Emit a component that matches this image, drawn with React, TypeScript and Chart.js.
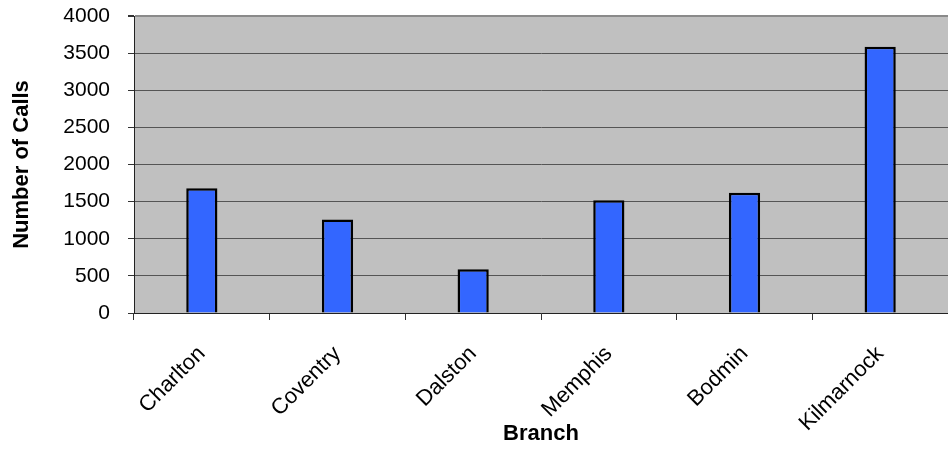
import React, { useEffect, useRef } from "react";
import { Chart, registerables } from "chart.js";

Chart.register(...registerables);

const categories = ["Charlton", "Coventry", "Dalston", "Memphis", "Bodmin", "Kilmarnock"];
const calls = [1680, 1260, 590, 1520, 1620, 3585];
const yTicks = [0, 500, 1000, 1500, 2000, 2500, 3000, 3500, 4000];

const FONT = "'Liberation Sans', Arial, sans-serif";

const plotBg = {
  id: "plotBg",
  beforeDraw(chart: any) {
    const { ctx, chartArea } = chart;
    ctx.save();
    ctx.fillStyle = "#c0c0c0";
    ctx.fillRect(chartArea.left, chartArea.top, chartArea.right - chartArea.left, chartArea.bottom - chartArea.top);
    ctx.restore();
  },
};

export default function App() {
  const ref = useRef<HTMLCanvasElement>(null);
  useEffect(() => {
    const chart = new Chart(ref.current!, {
      type: "bar",
      data: {
        labels: categories,
        datasets: [
          {
            data: calls,
            backgroundColor: "#3366ff",
            borderColor: "#000000",
            borderWidth: 2.5,
            barPercentage: 0.23,
            categoryPercentage: 1,
          },
        ],
      },
      options: {
        responsive: true,
        maintainAspectRatio: false,
        animation: false,
        layout: { padding: { top: 16, right: 0, bottom: 0, left: 0 } },
        plugins: { legend: { display: false }, tooltip: { enabled: false } },
        scales: {
          x: {
            afterFit(scale: any) {
              scale.height = 136;
            },
            grid: { drawOnChartArea: false, drawTicks: true, tickLength: 7, tickColor: "#333333", offset: true },
            border: { display: true, color: "#222222", width: 1 },
            ticks: {
              maxRotation: 45,
              minRotation: 45,
              color: "#000",
              font: { family: FONT, size: 22 },
              padding: 21,
            },
            title: {
              display: true,
              text: "Branch",
              color: "#000",
              font: { family: FONT, size: 22, weight: "bold" },
              padding: { top: 4, bottom: 2 },
            },
          },
          y: {
            min: 0,
            max: 4000,
            afterFit(scale: any) {
              scale.width = 134;
              scale.paddingTop = 0;
              scale.paddingBottom = 0;
            },
            afterBuildTicks(scale: any) {
              scale.ticks = yTicks.map((v) => ({ value: v }));
            },
            grid: {
              color: (c: any) => (c.tick && c.tick.value === 4000 ? "#8a8a8a" : "#555555"),
              lineWidth: (c: any) => (c.tick && c.tick.value === 4000 ? 2 : 1),
              tickLength: 6,
              tickColor: "#333333",
            },
            border: { display: true, color: "#222222", width: 1 },
            ticks: {
              color: "#000",
              font: { family: FONT, size: 21 },
              padding: 18,
              callback: (v: any) => String(v),
            },
            title: {
              display: true,
              text: "Number of Calls",
              color: "#000",
              font: { family: FONT, size: 22, weight: "bold" },
              padding: { top: 9, bottom: 0 },
            },
          },
        },
      },
      plugins: [plotBg],
    });
    return () => chart.destroy();
  }, []);
  return (
    <div style={{ position: "absolute", left: 0, top: 0, width: 948, height: 449 }}>
      <canvas ref={ref} />
    </div>
  );
}
